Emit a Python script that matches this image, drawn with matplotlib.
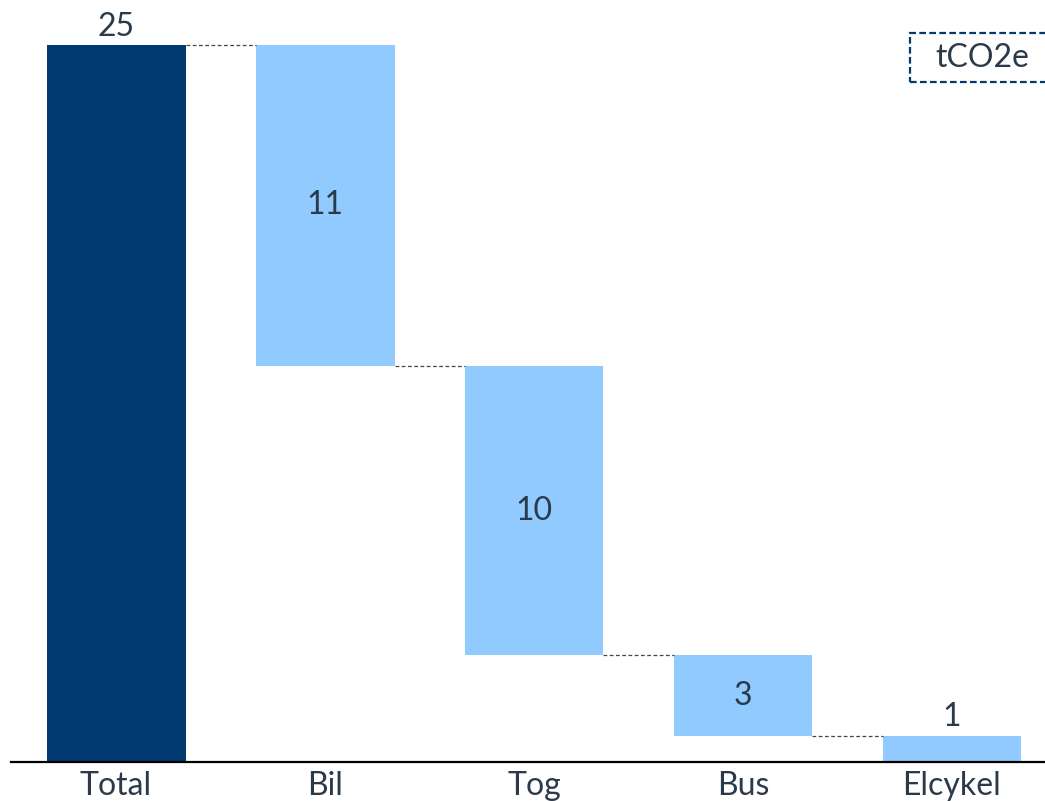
import numpy as np
import matplotlib
matplotlib.use("Agg")
import matplotlib.pyplot as plt
from matplotlib.patches import Rectangle

# DATA
kategorier = ["Total", "Bil", "Tog", "Bus", "Elcykel"]
vaerdier = [25, 11.2, 10.1, 2.8, 0.9]
etiketter = ["25", "11", "10", "3", "1"]
enhed = "tCO2e"

plt.rcParams['font.family'] = ['Lato', 'DejaVu Sans']
tekst_farve = '#2b3a4a'
moerk = '#003a70'
lys = '#90caff'
fs = 23

fig = plt.figure(figsize=(10.45, 8.01), dpi=100)
ax = fig.add_axes([11 / 1045, 39.5 / 801, 1 - 11 / 1045, 761.5 / 801])

x = np.arange(len(kategorier))
bredde = 0.665

# bunde for vandfaldet
total = vaerdier[0]
bunde = [0]
rest = total
for v in vaerdier[1:]:
    rest = rest - v
    bunde.append(rest)

farver = [moerk] + [lys] * (len(vaerdier) - 1)
ax.bar(x, vaerdier, bottom=bunde, width=bredde, color=farver, linewidth=0)

# stiplede forbindelseslinjer
for i in range(len(vaerdier) - 1):
    niveau = bunde[i + 1] + vaerdier[i + 1]
    ax.plot([x[i] + bredde / 2, x[i + 1] - bredde / 2], [niveau, niveau],
            color='#444444', linestyle=(0, (3, 2)), linewidth=0.9)

# etiketter
for i in range(len(vaerdier)):
    if i == 0 or vaerdier[i] < 2:
        ax.text(x[i], bunde[i] + vaerdier[i] + 0.12, etiketter[i], ha='center',
                va='bottom', fontsize=fs, color=tekst_farve)
    else:
        ax.text(x[i], bunde[i] + vaerdier[i] / 2, etiketter[i], ha='center',
                va='center', fontsize=fs, color=tekst_farve)

ax.set_xlim(-0.5025, 4.445)
ax.set_ylim(0, total * 761.5 / 716.5)
ax.set_xticks(x)
ax.set_xticklabels(kategorier, fontsize=fs, color=tekst_farve)
ax.tick_params(axis='x', length=0, pad=7)
ax.set_yticks([])
for s in ['top', 'right', 'left']:
    ax.spines[s].set_visible(False)
ax.spines['bottom'].set_linewidth(1.6)
ax.spines['bottom'].set_color('black')

# enhedsboks
fig.patches.append(Rectangle((910 / 1045, 1 - 82 / 801), 160 / 1045, 49 / 801,
                             transform=fig.transFigure, fill=False, edgecolor=moerk,
                             linestyle=(0, (3, 1.5)), linewidth=1.6))
fig.text(982 / 1045, 1 - 58 / 801, enhed, ha='center', va='center',
         fontsize=fs, color=tekst_farve)

fig.savefig("out.png", dpi=100)
